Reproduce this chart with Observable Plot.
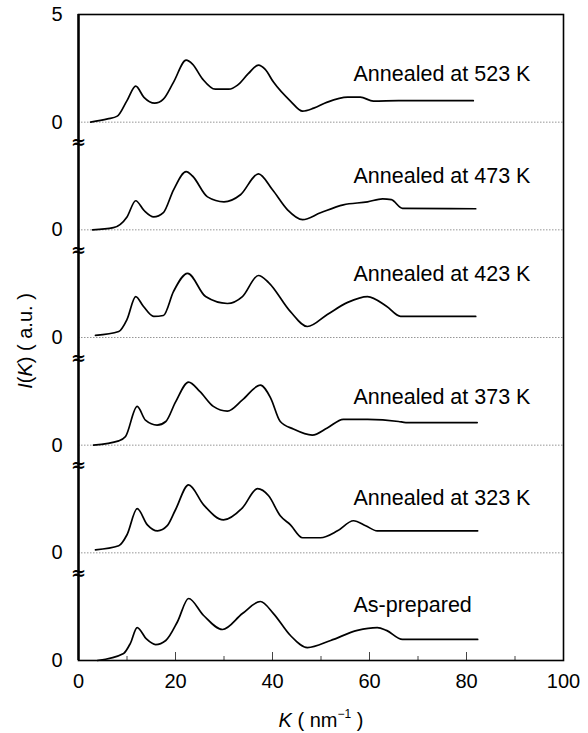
<!DOCTYPE html>
<html>
<head>
<meta charset="utf-8">
<script src="https://cdn.jsdelivr.net/npm/d3@7"></script>
<script src="https://cdn.jsdelivr.net/npm/@observablehq/plot@0.6"></script>
<style>
  html, body { margin: 0; padding: 0; background: #fff; }
  #chart { width: 588px; height: 733px; }
</style>
</head>
<body>
<div id="chart"></div>
<script>
// ---- data ----
const seriesNames = ["As-prepared", "Annealed at 323 K", "Annealed at 373 K", "Annealed at 423 K", "Annealed at 473 K", "Annealed at 523 K"];
const seriesOffsets = [0, 5, 10, 15, 20, 25];

const kAsPrep = [3.9, 9.3, 10.7, 12.1, 14, 15.9, 18, 20.4, 22.7, 25.8, 29.7, 33.8, 37.5, 40.2, 43.7, 47.2, 52, 57.5, 61.6, 63.5, 66.8, 82.3];
const iAsPrep = [0, 0.33, 0.8, 1.53, 1.0, 0.74, 0.93, 1.8, 2.88, 2.09, 1.44, 2.18, 2.74, 2.18, 1.16, 0.6, 0.93, 1.4, 1.53, 1.4, 0.98, 0.98];

const k323 = [3.5, 8.3, 10, 12.1, 14.2, 16.3, 18.3, 20, 22.7, 25.8, 29.9, 33.8, 36.9, 39.2, 41.6, 43.7, 46.2, 49.9, 53.4, 56.7, 59.2, 61.6, 66, 82.3];
const i323 = [0.14, 0.33, 0.84, 2.05, 1.3, 1.02, 1.26, 2.0, 3.16, 2.23, 1.53, 2.09, 2.98, 2.65, 1.72, 1.3, 0.7, 0.7, 1.02, 1.49, 1.26, 1.02, 1.02, 1.02];

const k373 = [3.1, 8.3, 9.7, 12.1, 13.8, 16.2, 18, 20, 22.7, 25, 27.8, 30.7, 33.8, 37.5, 39.6, 41.6, 44.3, 48.2, 51.3, 54.6, 59.6, 66, 67.5, 82.2];
const i373 = [0, 0.2, 0.4, 1.8, 1.16, 0.93, 1.1, 2.0, 2.93, 2.5, 1.8, 1.58, 2.1, 2.79, 2.2, 1.1, 0.75, 0.47, 0.8, 1.2, 1.2, 1.1, 1.05, 1.05];

const k423 = [3.5, 8.3, 10, 11.8, 13.4, 15.5, 17.5, 19.6, 22.5, 26.2, 30.7, 33.8, 37.1, 39.2, 43.7, 47.2, 51.3, 55.5, 59.6, 63.5, 66.4, 81.9];
const i423 = [0.1, 0.28, 0.84, 1.9, 1.44, 0.98, 1.02, 2.14, 2.98, 1.9, 1.58, 1.9, 2.88, 2.55, 1.2, 0.51, 1.07, 1.63, 1.9, 1.45, 0.98, 0.98];

const k473 = [2.9, 7.2, 10, 11.8, 13.5, 15.5, 17.5, 19.6, 22.2, 23.5, 26.6, 30, 33.4, 37.1, 40, 43.1, 46.2, 49.9, 54.6, 59.6, 62.7, 64.5, 66.8, 81.9];
const i473 = [0, 0.1, 0.6, 1.35, 0.9, 0.6, 0.8, 1.86, 2.7, 2.5, 1.53, 1.3, 1.63, 2.6, 1.86, 0.93, 0.47, 0.79, 1.16, 1.3, 1.44, 1.4, 1.0, 0.98];

const k523 = [2.5, 6, 8, 10, 11.8, 13.5, 15.7, 17.5, 19.6, 22.2, 23.5, 25.6, 28.2, 31, 32.8, 35, 37.1, 38.5, 40.2, 43.7, 46.2, 48.5, 51.3, 55.5, 58.1, 60.8, 66, 81.4];
const i523 = [0, 0.15, 0.28, 1.0, 1.67, 1.15, 0.88, 1.07, 1.86, 2.88, 2.7, 2.0, 1.53, 1.53, 1.72, 2.25, 2.65, 2.45, 1.86, 0.98, 0.51, 0.65, 0.93, 1.16, 1.16, 0.98, 1.0, 1.0];

const seriesK = [kAsPrep, k323, k373, k423, k473, k523];
const seriesI = [iAsPrep, i323, i373, i423, i473, i523];

const xTicks = [0, 20, 40, 60, 80, 100];
const xMinorTicks = [10, 30, 50, 70, 90];
const yTicks = [0, 5, 10, 15, 20, 25, 30];
const yTickLabels = ["0", "0", "0", "0", "0", "0", "5"];
const LABEL_K = 56.7;

// ---- derived tables ----
const rows = [];
seriesNames.forEach((name, s) => {
  seriesK[s].forEach((k, j) => rows.push({series: name, K: k, y: seriesI[s][j] + seriesOffsets[s]}));
});
const labels = seriesNames.map((name, s) => {
  const tail = seriesI[s].filter((v, j) => seriesK[s][j] >= 55);
  return {name, x: LABEL_K, y: seriesOffsets[s] + d3.max(tail) + 1.05};
});
const zeroLines = seriesOffsets.slice(1);
const breaks = seriesOffsets.slice(1).map(o => o - 0.95);

const W = 588, H = 733, mT = 14, mB = 73, mL = 78, mR = 25;
const innerH = H - mT - mB;

const svg = Plot.plot({
  width: W, height: H,
  marginTop: mT, marginBottom: mB, marginLeft: mL, marginRight: mR,
  style: {fontFamily: "'Liberation Sans', Arial, sans-serif", fontSize: "20px", color: "black", background: "white"},
  x: {domain: [0, 100]},
  y: {domain: [0, 30]},
  marks: [
    Plot.ruleY(zeroLines, {stroke: "#8a8a8a", strokeWidth: 0.9, strokeDasharray: "1.5,1.5"}),
    Plot.tickX(xTicks.slice(1, -1), {x: d => d, stroke: "#444", strokeWidth: 1, insetTop: innerH - 8}),
    Plot.tickX(xMinorTicks, {x: d => d, stroke: "#444", strokeWidth: 1, insetTop: innerH - 4}),
    Plot.line(rows, {x: "K", y: "y", z: "series", stroke: "black", strokeWidth: 1.7, curve: "monotone-x"}),
    Plot.text(labels, {x: "x", y: "y", text: "name", textAnchor: "start", fontSize: 21.5, fill: "black"}),
    Plot.frame({stroke: "black", strokeWidth: 1.6}),
    Plot.ruleX([0], {stroke: "black", strokeWidth: 2.4}),
    Plot.text(breaks, {x: 0, y: d => d, text: () => "≈", fontSize: 18, fontWeight: "bold", fontFamily: "DejaVu Sans", fill: "black"}),
    Plot.axisX({ticks: xTicks, tickSize: 0, tickPadding: 13, label: null, fontSize: 20}),
    Plot.axisY({ticks: yTicks, tickFormat: d => yTickLabels[yTicks.indexOf(d)], tickSize: 0, tickPadding: 16, label: null, fontSize: 20})
  ]
});

const s = d3.select(svg);
// y-axis title: I(K) ( a.u. )
const yt = s.append("text")
  .attr("transform", "translate(32,341) rotate(-90)")
  .attr("text-anchor", "middle")
  .attr("font-size", 20)
  .attr("fill", "black");
yt.append("tspan").attr("font-style", "italic").text("I");
yt.append("tspan").text("(");
yt.append("tspan").attr("font-style", "italic").text("K");
yt.append("tspan").text(") ( a.u. )");

// x-axis title: K ( nm^-1 )
const xt = s.append("text")
  .attr("x", 321).attr("y", 727)
  .attr("text-anchor", "middle")
  .attr("font-size", 20)
  .attr("fill", "black");
xt.append("tspan").attr("font-style", "italic").text("K");
xt.append("tspan").text(" ( nm");
xt.append("tspan").attr("font-size", 12).attr("dy", -9).text("−1");
xt.append("tspan").attr("dy", 9).text(" )");

document.getElementById("chart").appendChild(svg);
</script>
</body>
</html>
